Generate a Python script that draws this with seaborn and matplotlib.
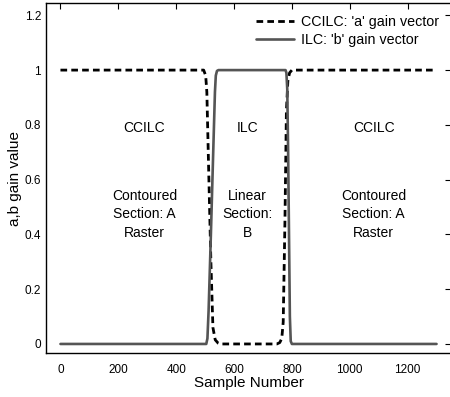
import matplotlib
matplotlib.use("Agg")
import matplotlib.pyplot as plt
import seaborn as sns
import pandas as pd

# ---- data ----
a_x = [0, 495, 502, 506, 512, 520, 527, 535, 545, 552, 748, 758, 765, 770, 776, 781, 786, 792, 800, 1300]
a_y = [1, 1, 0.98, 0.92, 0.65, 0.3, 0.06, 0.015, 0.003, 0, 0, 0.005, 0.02, 0.08, 0.45, 0.85, 0.96, 0.99, 1, 1]

b_x = [0, 504, 508, 512, 520, 528, 534, 537, 541, 546, 778, 781, 784, 787, 790, 793, 796, 800, 1300]
b_y = [0, 0, 0.02, 0.12, 0.4, 0.7, 0.92, 0.98, 0.997, 1, 1, 0.99, 0.93, 0.7, 0.4, 0.1, 0.01, 0, 0]

a_label = "CCILC: 'a' gain vector"
b_label = "ILC: 'b' gain vector"

x_ticks = [0, 200, 400, 600, 800, 1000, 1200]
y_ticks = [0, 0.2, 0.4, 0.6, 0.8, 1.0, 1.2]
y_tick_labels = ["0", "0.2", "0.4", "0.6", "0.8", "1", "1.2"]

region_x = [290, 647, 1083]
region_titles = ["CCILC", "ILC", "CCILC"]
region_texts = ["Contoured\nSection: A\nRaster", "Linear\nSection:\nB", "Contoured\nSection: A\nRaster"]

# ---- plotting ----
sns.set_style("white")
plt.rcParams["font.family"] = ["Liberation Sans", "DejaVu Sans"]
plt.rcParams["text.color"] = "black"
plt.rcParams["axes.labelcolor"] = "black"

fig = plt.figure(figsize=(4.5, 3.97), dpi=100)
ax = fig.add_axes([46 / 450, 44 / 397, 405 / 450, 350 / 397])

df_a = pd.DataFrame({"x": a_x, "y": a_y})
df_b = pd.DataFrame({"x": b_x, "y": b_y})

sns.lineplot(data=df_a, x="x", y="y", ax=ax, color="black", lw=2.0,
             linestyle=(0, (2.4, 1.5)), label=a_label, sort=False, estimator=None)
sns.lineplot(data=df_b, x="x", y="y", ax=ax, color="#555555", lw=1.9,
             label=b_label, sort=False, estimator=None)

ax.set_xlim(-50, 1350)
ax.set_ylim(-0.033, 1.245)
ax.set_xticks(x_ticks)
ax.set_xticklabels([str(v) for v in x_ticks])
ax.set_yticks(y_ticks)
ax.set_yticklabels(y_tick_labels)
ax.tick_params(direction="in", length=4, width=0.8, top=True, right=True,
               labelsize=8.5, colors="black")
ax.tick_params(axis="x", pad=8)
ax.tick_params(axis="y", pad=3.5)

for s in ax.spines.values():
    s.set_linewidth(1.0)
    s.set_color("black")

ax.set_xlabel("Sample Number", fontsize=11, labelpad=0)
ax.set_ylabel("a,b gain value", fontsize=11, labelpad=2)

for xx, t, body in zip(region_x, region_titles, region_texts):
    ax.text(xx, 0.788, t, ha="center", va="center", fontsize=10)
    ax.text(xx, 0.474, body, ha="center", va="center", fontsize=10, linespacing=1.4)

leg = ax.legend(loc="upper right", frameon=False, fontsize=10.3,
                handlelength=2.65, handletextpad=0.5, labelspacing=0.28,
                bbox_to_anchor=(0.995, 0.995), borderaxespad=0.3)

fig.savefig("out.png", dpi=100)
